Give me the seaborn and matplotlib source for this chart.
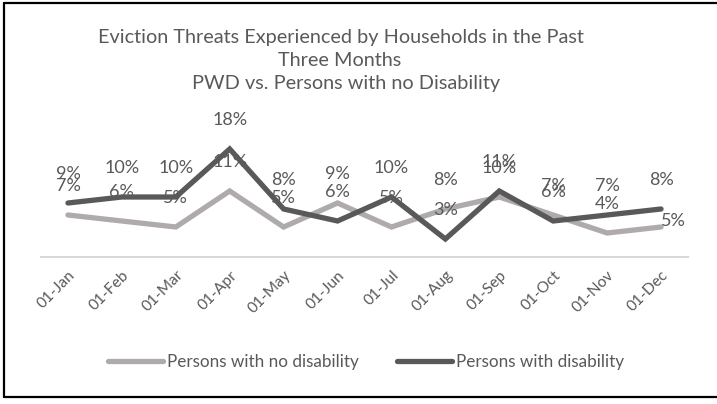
import matplotlib
matplotlib.use("Agg")
import matplotlib.pyplot as plt
import seaborn as sns
import pandas as pd

months = ["01-Jan", "01-Feb", "01-Mar", "01-Apr", "01-May", "01-Jun",
          "01-Jul", "01-Aug", "01-Sep", "01-Oct", "01-Nov", "01-Dec"]
no_disability = [7, 6, 5, 11, 5, 9, 5, 8, 10, 7, 4, 5]
with_disability = [9, 10, 10, 18, 8, 6, 10, 3, 11, 6, 7, 8]
series_names = ["Persons with no disability", "Persons with disability"]
title_lines = ["Eviction Threats Experienced by Households in the Past",
               "Three Months",
               "PWD vs. Persons with no Disability"]

sns.set_theme(style="white")
plt.rcParams["font.family"] = ["Lato", "DejaVu Sans"]

TEXT = "#595959"
colors = {series_names[0]: "#AFABAB", series_names[1]: "#595959"}

df = pd.DataFrame({
    "pos": list(range(len(months))) * 2,
    "value": no_disability + with_disability,
    "series": [series_names[0]] * len(months) + [series_names[1]] * len(months),
})

W, H = 717, 404
fig = plt.figure(figsize=(W / 100, H / 100), dpi=100)
ax = fig.add_axes([41 / W, (H - 257) / H, (688 - 41) / W, 120 / H])

sns.lineplot(data=df, x="pos", y="value", hue="series", palette=colors,
             linewidth=3.8, ax=ax, legend=False, sort=False)
for ln in ax.lines:
    ln.set_solid_capstyle("round")
    ln.set_solid_joinstyle("miter")
    ln.set_clip_on(False)

ax.set_xlim(-0.5, len(months) - 0.5)
ax.set_ylim(0, 20)
ax.set_xlabel("")
ax.set_ylabel("")
ax.set_yticks([])
ax.set_xticks(range(len(months)))
ax.set_xticklabels(months, rotation=45, ha="right", rotation_mode="anchor",
                   color=TEXT, fontsize=11.2)
ax.tick_params(axis="x", length=0, pad=8)
for side in ["top", "left", "right"]:
    ax.spines[side].set_visible(False)
ax.spines["bottom"].set_color("#D9D9D9")
ax.spines["bottom"].set_linewidth(1.5)
ax.patch.set_alpha(0)

# data labels above each point
label_size = 13
for i, v in enumerate(no_disability):
    if i == len(months) - 1:
        off = (9, 4)
    else:
        off = (0, 21)
    ax.annotate(f"{v}%", (i, v), xytext=off, textcoords="offset points",
                ha="center", va="center", color=TEXT, fontsize=label_size,
                annotation_clip=False)
for i, v in enumerate(with_disability):
    ax.annotate(f"{v}%", (i, v), xytext=(0, 21), textcoords="offset points",
                ha="center", va="center", color=TEXT, fontsize=label_size,
                annotation_clip=False)

# title
for txt, (cx, cy) in zip(title_lines, [(341, 37), (340, 60), (346, 84)]):
    fig.text(cx / W, 1 - cy / H, txt, ha="center", va="center",
             color=TEXT, fontsize=14.3)

# legend
handles = [plt.Line2D([], [], color=colors[n], linewidth=3.8,
                      solid_capstyle="round") for n in series_names]
fig.legend(handles, series_names, loc="center", ncol=2,
           bbox_to_anchor=(366 / W, 1 - 362 / H), frameon=False,
           fontsize=12.3, labelcolor=TEXT, handlelength=3.2,
           handletextpad=0.23, columnspacing=2.25)

# chart border (top, left, bottom)
border = dict(color="black", linewidth=1.6, transform=fig.transFigure)
fig.add_artist(plt.Line2D([4 / W, 1], [1 - 3 / H, 1 - 3 / H], **border))
fig.add_artist(plt.Line2D([4 / W, 4 / W], [1 - 3 / H, 1 - 397 / H], **border))
fig.add_artist(plt.Line2D([4 / W, 1], [1 - 397 / H, 1 - 397 / H], **border))

fig.savefig("out.png", dpi=100, facecolor="white")
